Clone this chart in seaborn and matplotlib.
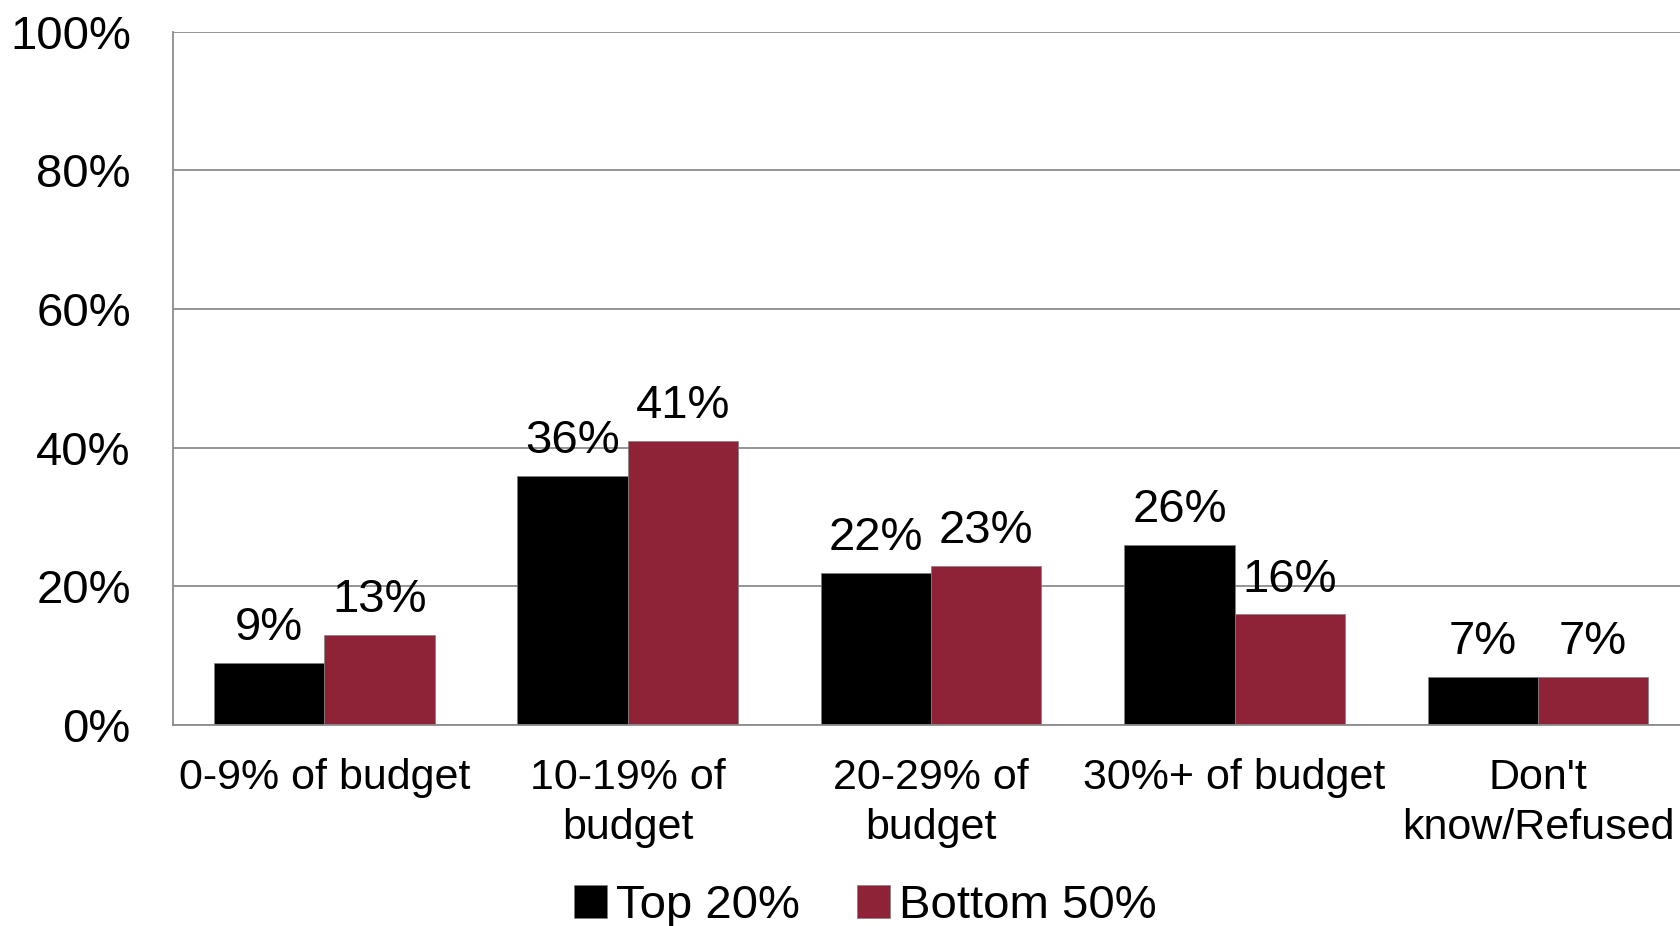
import pandas as pd
import matplotlib.pyplot as plt
import seaborn as sns

categories = ["0-9% of budget", "10-19% of\nbudget", "20-29% of\nbudget",
              "30%+ of budget", "Don't\nknow/Refused"]
top20 = [9, 36, 22, 26, 7]
bottom50 = [13, 41, 23, 16, 7]
groups = ["Top 20%", "Bottom 50%"]

df = pd.DataFrame({
    'category': categories * 2,
    'value': top20 + bottom50,
    'group': [groups[0]] * len(categories) + [groups[1]] * len(categories),
})

sns.set_style('white')
plt.rcParams['font.family'] = ['Liberation Sans', 'DejaVu Sans']
plt.rcParams['text.color'] = 'black'
plt.rcParams['xtick.color'] = 'black'
plt.rcParams['ytick.color'] = 'black'

fig = plt.figure(figsize=(16.8, 9.26), dpi=100)
ax = fig.add_axes([0.1027, 0.217, 0.8973, 0.7486])

sns.barplot(data=df, x='category', y='value', hue='group', hue_order=groups,
            palette=['#000000', '#8E2338'], saturation=1, width=0.727, ax=ax,
            edgecolor='#7f7f7f', linewidth=0.5, legend=True)

for c in ax.containers:
    ax.bar_label(c, labels=[f"{v:.0f}%" for v in c.datavalues],
                 padding=9, fontsize=34, color='black')

ax.set_ylim(0, 100)
ax.set_xlim(-0.5, 4.468)
ax.set_yticks(range(0, 101, 20))
ax.set_yticklabels([f"{t}%" for t in range(0, 101, 20)], fontsize=34)
ax.tick_params(axis='y', length=0, pad=30)
ax.tick_params(axis='x', length=0, pad=24, labelsize=31)
for lbl in ax.get_xticklabels():
    lbl.set_linespacing(1.3)
ax.set_xlabel('')
ax.set_ylabel('')
ax.yaxis.grid(True, color='#8c8c8c', linewidth=1.3)
ax.set_axisbelow(True)
for side in ['top', 'right']:
    ax.spines[side].set_visible(False)
for side in ['left', 'bottom']:
    ax.spines[side].set_color('#8c8c8c')
    ax.spines[side].set_linewidth(1.3)

handles, labels = ax.get_legend_handles_labels()
ax.legend_.remove()
fig.legend(handles, labels, loc='center', bbox_to_anchor=(0.515, 0.022),
           ncol=2, frameon=False, fontsize=34, handlelength=0.7,
           handleheight=0.7, handletextpad=0.2, columnspacing=1.2)

fig.savefig('out.png', dpi=100)
